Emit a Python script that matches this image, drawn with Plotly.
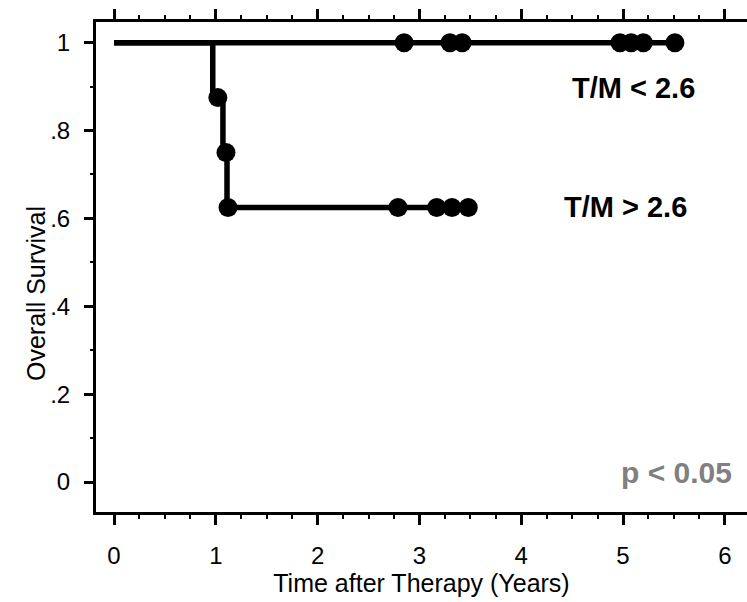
import plotly.graph_objects as go

# --- data ---
upper_line_x = [0.0, 5.51]
upper_line_y = [1.0, 1.0]
upper_censor_x = [2.85, 3.30, 3.42, 4.97, 5.08, 5.20, 5.51]
upper_censor_y = [1.0, 1.0, 1.0, 1.0, 1.0, 1.0, 1.0]

lower_line_x = [0.0, 0.97, 1.07, 1.11, 3.48]
lower_line_y = [1.0, 0.875, 0.75, 0.625, 0.625]
lower_event_x = [1.02, 1.10, 1.12]
lower_event_y = [0.875, 0.75, 0.625]
lower_censor_x = [2.79, 3.17, 3.32, 3.48]
lower_censor_y = [0.625, 0.625, 0.625, 0.625]

x_tickvals = [0, 1, 2, 3, 4, 5, 6]
x_ticktext = ["0", "1", "2", "3", "4", "5", "6"]
y_tickvals = [0, 0.2, 0.4, 0.6, 0.8, 1.0]
y_ticktext = ["0", ".2", ".4", ".6", ".8", "1"]

FONT = "Liberation Sans, Arial, sans-serif"
LW = 5.5
MS = 19

fig = go.Figure()
fig.add_trace(go.Scatter(x=upper_line_x, y=upper_line_y, mode="lines",
                         line=dict(color="black", width=LW, shape="hv"),
                         hoverinfo="skip", showlegend=False))
fig.add_trace(go.Scatter(x=lower_line_x, y=lower_line_y, mode="lines",
                         line=dict(color="black", width=LW, shape="hv"),
                         hoverinfo="skip", showlegend=False))
fig.add_trace(go.Scatter(x=upper_censor_x, y=upper_censor_y, mode="markers",
                         marker=dict(color="black", size=MS, symbol="circle"),
                         showlegend=False))
fig.add_trace(go.Scatter(x=lower_event_x + lower_censor_x,
                         y=lower_event_y + lower_censor_y, mode="markers",
                         marker=dict(color="black", size=MS, symbol="circle"),
                         showlegend=False))

fig.add_annotation(x=5.10, y=0.897, text="<b>T/M < 2.6</b>", showarrow=False,
                   font=dict(family=FONT, size=29, color="black"))
fig.add_annotation(x=5.02, y=0.625, text="<b>T/M > 2.6</b>", showarrow=False,
                   font=dict(family=FONT, size=29, color="black"))
fig.add_annotation(x=5.53, y=0.022, text="<b>p < 0.05</b>", showarrow=False,
                   font=dict(family=FONT, size=30, color="#808080"))

# y-axis title placed as rotated text (sits slightly below the plot centre)
PLOT_L, PLOT_T, PLOT_B = 96, 22, 512
PLOT_W = 747 - PLOT_L
PLOT_H = PLOT_B - PLOT_T
fig.add_annotation(xref="paper", yref="paper",
                   x=(36 - PLOT_L) / PLOT_W, y=(PLOT_B - 294) / PLOT_H,
                   xanchor="center", yanchor="middle", textangle=-90,
                   text="Overall Survival", showarrow=False,
                   font=dict(family=FONT, size=25, color="black"))

fig.update_layout(
    width=747, height=602,
    margin=dict(l=PLOT_L, r=0, t=PLOT_T, b=602 - PLOT_B),
    paper_bgcolor="white", plot_bgcolor="white",
    font=dict(family=FONT, size=24, color="black"),
    xaxis=dict(
        range=[-0.1768, 6.218], tickvals=x_tickvals, ticktext=x_ticktext,
        tick0=0, ticks="outside", ticklen=10, tickwidth=3, tickcolor="black",
        showline=True, linewidth=3, linecolor="black", mirror="ticks",
        showgrid=False, zeroline=False,
        minor=dict(dtick=0.25, tick0=0, ticks="outside", ticklen=4, tickwidth=2,
                   tickcolor="black", showgrid=False),
        ticklabelstandoff=10,
        tickfont=dict(family=FONT, size=24, color="black"),
        title=dict(text="Time after Therapy (Years)", standoff=6,
                   font=dict(family=FONT, size=25, color="black")),
    ),
    yaxis=dict(
        range=[-0.0683, 1.0471], tickvals=y_tickvals, ticktext=y_ticktext,
        ticks="outside", ticklen=9, tickwidth=3, tickcolor="black",
        showline=True, linewidth=3, linecolor="black",
        showgrid=False, zeroline=False,
        minor=dict(dtick=0.1, tick0=0, ticks="outside", ticklen=3, tickwidth=2,
                   tickcolor="black", showgrid=False),
        ticklabelstandoff=9,
        tickfont=dict(family=FONT, size=24, color="black"),
    ),
)

fig.write_html("out.html")
